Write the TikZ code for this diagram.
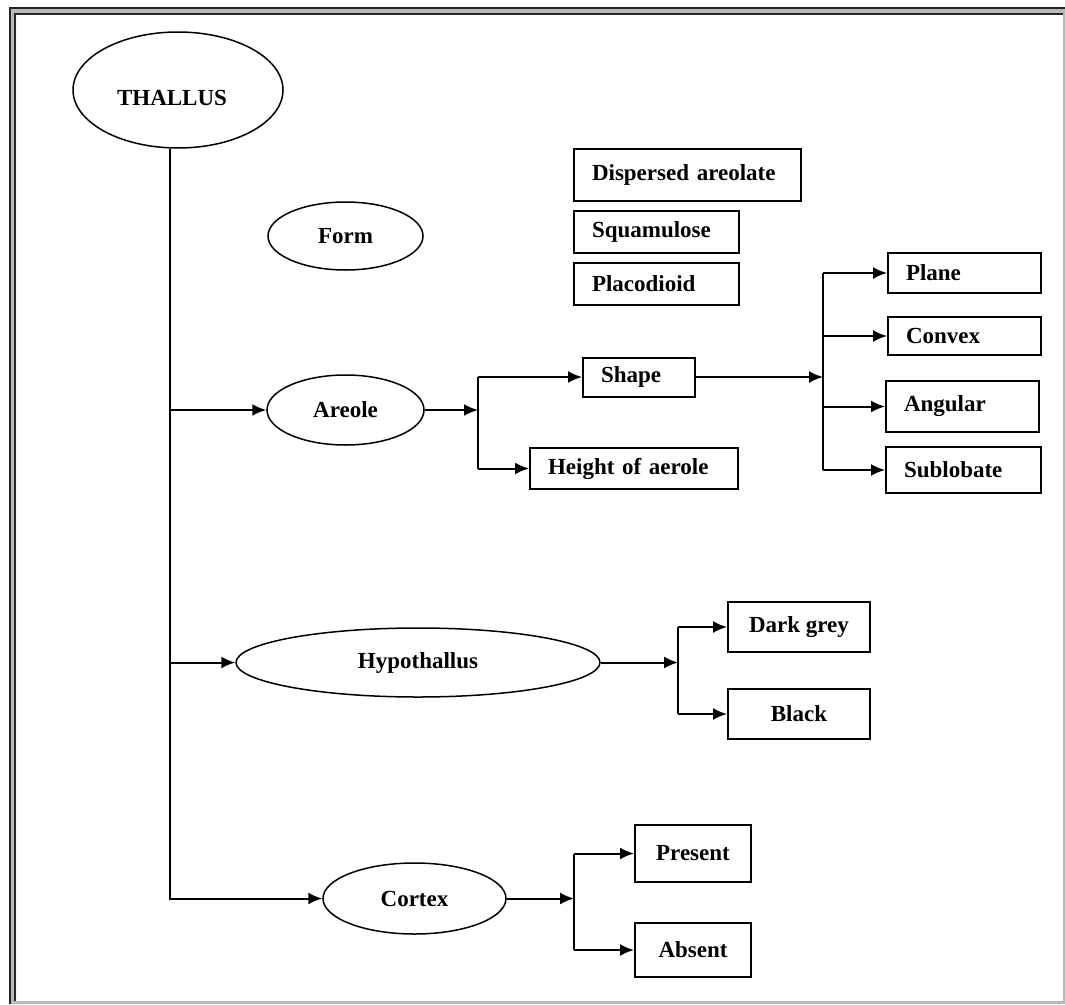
\documentclass[tikz,border=0pt]{standalone}
\usepackage{fontspec}
\setmainfont{Liberation Serif}
\usetikzlibrary{arrows.meta,shapes.geometric}
\begin{document}
\begin{tikzpicture}[x=1pt,y=-1pt,
  every node/.style={font=\fontsize{23}{27}\selectfont\bfseries},
  oval/.style={draw, ellipse, line width=1.5pt, inner sep=0pt},
  lbox/.style={draw, rectangle, line width=2pt, inner xsep=18pt, inner ysep=0pt, align=left},
  cbox/.style={draw, rectangle, line width=2pt, inner sep=0pt, align=center},
  link/.style={line width=2pt},
  arr/.style={link, -{Latex[length=14pt,width=12pt]}}]
\useasboundingbox (0,0) rectangle (1065,1004);
\fill[white] (0,0) rectangle (1065,1004);

% double page frame
\fill[gray!55, even odd rule] (9,7) rectangle (1065,1004) (16,14) rectangle (1063,1001);
\draw[black!85, line width=1.8pt] (9.8,1004) -- (9.8,7.8) -- (1065,7.8);
\draw[black!85, line width=1.8pt] (15.2,1001) -- (15.2,14.2) -- (1063,14.2);

% ovals
\node[oval, minimum width=210pt, minimum height=116pt,
      label={[xshift=-6pt,yshift=-8pt]center:THALLUS}] (thallus) at (178,90) {};
\node[oval, minimum width=155pt, minimum height=68pt] (form) at (345.5,236) {Form};
\node[oval, minimum width=157pt, minimum height=70pt] (areole) at (345.5,410) {Areole};
\node[oval, minimum width=364pt, minimum height=69pt] (hypo) at (418,662.5) {Hypothallus};
\node[oval, minimum width=183pt, minimum height=71pt] (cortex) at (414.5,898.5) {Cortex};

% form types
\node[lbox, text width=191pt, minimum height=52pt] (dispersed) at (687.5,175) {Dispersed areolate};
\node[lbox, text width=129pt, minimum height=42pt] (squam) at (656.5,232) {Squamulose};
\node[lbox, text width=129pt, minimum height=42pt] (placo) at (656.5,284) {Placodioid};

% areole branches
\node[lbox, text width=76pt, minimum height=39pt] (shape) at (639,377) {Shape};
\node[lbox, text width=172pt, minimum height=41pt] (height) at (634,468.5) {Height of aerole};
\node[lbox, text width=117pt, minimum height=40pt] (plane) at (964.5,273) {Plane};
\node[lbox, text width=117pt, minimum height=38pt] (convex) at (964.5,336) {Convex};
\node[lbox, text width=117pt, minimum height=51pt] (angular) at (962.5,406.5) {Angular};
\node[lbox, text width=119pt, minimum height=46pt] (sublobate) at (963.5,470) {Sublobate};

% hypothallus colours
\node[cbox, minimum width=142pt, minimum height=50pt] (darkgrey) at (799,627) {Dark grey};
\node[cbox, minimum width=142pt, minimum height=50pt] (black) at (799,714) {Black};

% cortex states
\node[cbox, minimum width=116pt, minimum height=57pt] (present) at (693,853.5) {Present};
\node[cbox, minimum width=116pt, minimum height=54pt] (absent) at (693,950) {Absent};

% junction points
\coordinate (tk) at (170,0);
\coordinate (ja) at (478,0);
\coordinate (js) at (823,0);
\coordinate (jh) at (678,0);
\coordinate (jc) at (574,0);

% main trunk
\draw[arr] (thallus.south -| tk) |- (cortex.west);
\draw[arr] (tk |- areole.west) -- (areole.west);
\draw[arr] (tk |- hypo.west) -- (hypo.west);

% areole
\draw[arr] (areole.east) -- (areole.east -| ja);
\draw[link] (ja |- shape.west) -- (ja |- height.west);
\draw[arr] (ja |- shape.west) -- (shape.west);
\draw[arr] (ja |- height.west) -- (height.west);

% shape
\draw[arr] (shape.east) -- (shape.east -| js);
\draw[link] (js |- plane.west) -- (js |- sublobate.west);
\draw[arr] (js |- plane.west) -- (plane.west);
\draw[arr] (js |- convex.west) -- (convex.west);
\draw[arr] (js |- angular.west) -- (angular.west);
\draw[arr] (js |- sublobate.west) -- (sublobate.west);

% hypothallus
\draw[arr] (hypo.east) -- (hypo.east -| jh);
\draw[link] (jh |- darkgrey.west) -- (jh |- black.west);
\draw[arr] (jh |- darkgrey.west) -- (darkgrey.west);
\draw[arr] (jh |- black.west) -- (black.west);

% cortex
\draw[arr] (cortex.east) -- (cortex.east -| jc);
\draw[link] (jc |- present.west) -- (jc |- absent.west);
\draw[arr] (jc |- present.west) -- (present.west);
\draw[arr] (jc |- absent.west) -- (absent.west);
\end{tikzpicture}
\end{document}
